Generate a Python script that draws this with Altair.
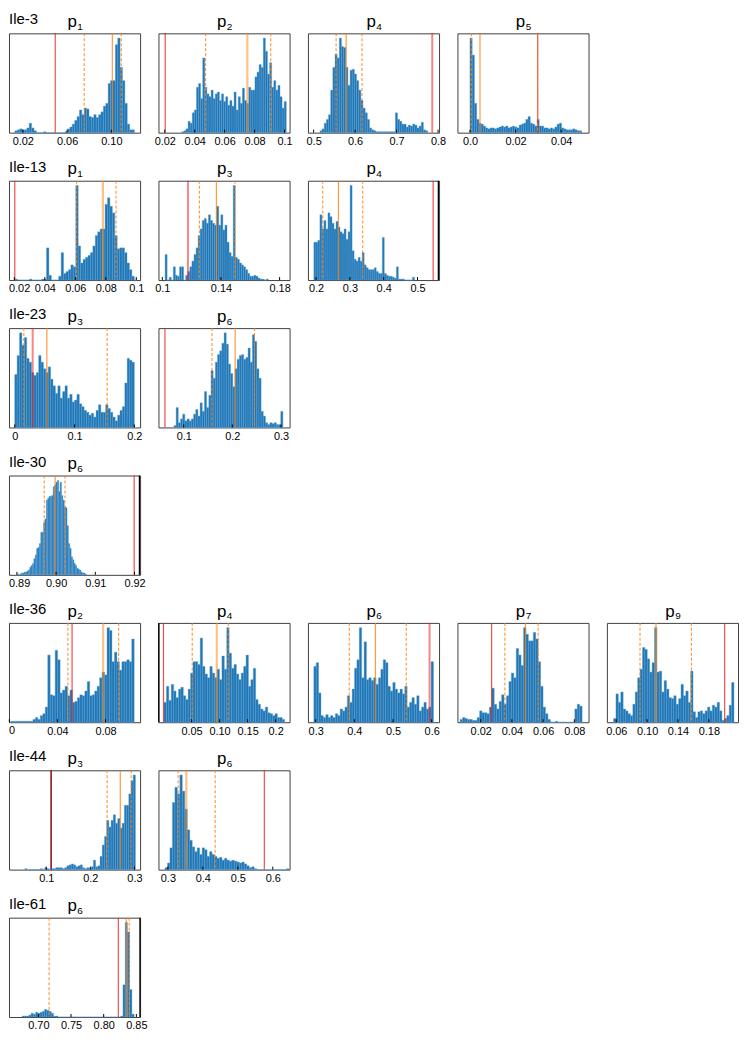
import altair as alt
import numpy as np
import pandas as pd

FONT = "Liberation Sans"
PANEL_W = 132
PANEL_H = 100

# ---------------- Ile-3 ----------------
ILE3_P1_COUNTS = [2,3,4,3,3,5,10,5,2,0, 0,0,1,0,0,0,0,0,0,0, 0,1,4,6,9,13,17,24,19,26,
                  25,17,16,19,16,19,22,28,31,52, 55,55,93,100,69,55,31,9,3,3]
ILE3_P1_BINS = [0.0128, 0.1209]
ILE3_P1_XLIM = [0.0075, 0.126]
ILE3_P1_TICKS = [0.02, 0.06, 0.10]
ILE3_P1_LABELS = ["0.02", "0.06", "0.10"]
ILE3_P1_LINES = [("true", 0.0493), ("ci", 0.0755), ("median", 0.1009), ("ci", 0.109)]

ILE3_P2_COUNTS = [1,2,4,12,10,21,24,48,52,36, 79,48,41,38,45,36,41,43,34,41, 33,38,29,34,28,43,24,38,31,47,
                  34,31,48,45,45,59,64,72,69,100, 86,62,74,48,55,45,50,38,26,33]
ILE3_P2_BINS = [0.0314, 0.1012]
ILE3_P2_XLIM = [0.0158, 0.1034]
ILE3_P2_TICKS = [0.02, 0.04, 0.06, 0.08, 0.1]
ILE3_P2_LABELS = ["0.02", "0.04", "0.06", "0.08", "0.1"]
ILE3_P2_LINES = [("true", 0.0203), ("ci", 0.0473), ("median_wide", 0.0752), ("ci", 0.0908)]

ILE3_P4_COUNTS = [2,4,10,14,19,45,69,83,79,100, 91,90,69,50,66,67,62,55,45,34, 26,21,14,5,3,2,1,1,1,1,
                  1,1,1,1,1,21,14,12,9,9, 6,8,7,9,8,5,7,11,3,2]
ILE3_P4_BINS = [0.5151, 0.7751]
ILE3_P4_XLIM = [0.4863, 0.8024]
ILE3_P4_TICKS = [0.5, 0.6, 0.7, 0.8]
ILE3_P4_LABELS = ["0.5", "0.6", "0.7", "0.8"]
ILE3_P4_LINES = [("true_wide", 0.786), ("ci", 0.5542), ("median", 0.5784), ("ci", 0.6166)]

ILE3_P5_COUNTS = [100,82,31,14,10,9,7,5,4,5, 5,4,5,6,7,6,7,5,6,7, 6,5,8,9,10,14,17,10,9,7,
                  14,7,7,5,5,4,5,4,6,9, 10,5,4,3,3,3,4,3,2,2]
ILE3_P5_BINS = [0.0, 0.049]
ILE3_P5_XLIM = [-0.0055, 0.052]
ILE3_P5_TICKS = [0.0, 0.02, 0.04]
ILE3_P5_LABELS = ["0.0", "0.02", "0.04"]
ILE3_P5_LINES = [("true", 0.0297), ("ci", 0.0006), ("median", 0.0044), ("ci", 0.0297)]

# ---------------- Ile-13 ----------------
ILE13_P1_COUNTS = [1,0,0,0,0,0,1,0,0,0, 0,1,1,34,5,0,0,0,4,29, 7,9,11,16,14,100,36,18,22,24,
                   26,29,36,47,51,54,54,80,87,78, 71,47,33,34,34,29,18,11,4,0]
ILE13_P1_BINS = [0.0203, 0.1003]
ILE13_P1_XLIM = [0.0165, 0.1025]
ILE13_P1_TICKS = [0.02, 0.04, 0.06, 0.08, 0.1]
ILE13_P1_LABELS = ["0.02", "0.04", "0.06", "0.08", "0.1"]
ILE13_P1_LINES = [("true", 0.0203), ("ci", 0.0608), ("median_wide", 0.0781), ("ci", 0.0867)]

ILE13_P3_COUNTS = [27,0,3,0,14,5,4,14,14,0, 5,9,14,20,27,34,47,54,63,65, 60,69,63,60,58,78,58,69,53,58,
                   40,29,25,100,24,22,18,16,14,11, 7,4,4,5,4,2,1,1,0,1]
ILE13_P3_BINS = [0.1019, 0.1723]
ILE13_P3_XLIM = [0.0974, 0.1868]
ILE13_P3_TICKS = [0.1, 0.14, 0.18]
ILE13_P3_LABELS = ["0.1", "0.14", "0.18"]
ILE13_P3_LINES = [("true_wide", 0.1175), ("ci", 0.1253), ("median", 0.1369), ("ci", 0.1495)]

ILE13_P4_COUNTS = [40,40,42,69,54,63,54,71,67,60, 54,62,56,51,49,54,43,51,100,31, 22,20,24,20,29,16,13,11,11,11,
                   13,9,7,7,45,7,5,4,4,3, 2,14,1,1,1,0,0,0,0,3]
ILE13_P4_BINS = [0.1935, 0.491]
ILE13_P4_XLIM = [0.176, 0.5637]
ILE13_P4_TICKS = [0.2, 0.3, 0.4, 0.5]
ILE13_P4_LABELS = ["0.2", "0.3", "0.4", "0.5"]
ILE13_P4_LINES = [("black", 0.5617), ("true", 0.5462), ("ci", 0.2197), ("median", 0.2662), ("ci", 0.3379)]

# ---------------- Ile-23 ----------------
ILE23_P3_COUNTS = [56,76,100,87,95,73,69,58,55,58, 76,69,62,58,64,51,44,36,44,31, 38,44,31,35,27,29,35,25,22,18,
                   16,13,15,11,18,24,16,16,24,20, 16,11,7,13,18,22,47,73,71,69]
ILE23_P3_BINS = [0.0, 0.2]
ILE23_P3_XLIM = [-0.0096, 0.2096]
ILE23_P3_TICKS = [0, 0.1, 0.2]
ILE23_P3_LABELS = ["0", "0.1", "0.2"]
ILE23_P3_LINES = [("true_wide", 0.030), ("ci", 0.0152), ("median", 0.0537), ("ci", 0.1545)]

ILE23_P6_COUNTS = [2,21,5,9,14,7,9,7,9,14, 19,12,26,17,38,21,34,60,52,69, 77,81,89,100,88,67,57,43,62,72,
                   76,77,72,74,84,69,98,91,62,52, 17,12,5,3,5,4,5,3,3,17]
ILE23_P6_BINS = [0.0799, 0.304]
ILE23_P6_XLIM = [0.0481, 0.3177]
ILE23_P6_TICKS = [0.1, 0.2, 0.3]
ILE23_P6_LABELS = ["0.1", "0.2", "0.3"]
ILE23_P6_LINES = [("true", 0.0614), ("ci", 0.1581), ("median", 0.2058), ("ci", 0.2455)]

# ---------------- Ile-30 ----------------
ILE30_P6_COUNTS = [1,0,1,2,2,3,3,4,5,8, 10,12,17,21,28,29,33,45,45,55, 59,79,81,83,83,84,93,95,98,100,
                   88,98,84,79,72,71,52,33,28,19, 16,12,10,7,6,5,3,2,2,1]
ILE30_P6_BINS = [0.89008, 0.90773]
ILE30_P6_XLIM = [0.88798, 0.92143]
ILE30_P6_TICKS = [0.89, 0.90, 0.91, 0.92]
ILE30_P6_LABELS = ["0.89", "0.90", "0.91", "0.92"]
ILE30_P6_LINES = [("black", 0.92126), ("true", 0.91992), ("ci", 0.89697), ("median", 0.89975), ("ci", 0.90227)]

# ---------------- Ile-36 ----------------
ILE36_P2_COUNTS = [1,1,1,1,1,1,1,1,1,3, 5,3,7,9,16,71,29,28,76,66, 31,34,38,28,34,21,22,26,29,28,
                   33,43,28,29,33,38,47,53,50,100, 97,64,74,64,55,64,64,66,64,88]
ILE36_P2_BINS = [0.0011, 0.1039]
ILE36_P2_XLIM = [-0.0003, 0.1088]
ILE36_P2_TICKS = [0, 0.04, 0.08]
ILE36_P2_LABELS = ["0", "0.04", "0.08"]
ILE36_P2_LINES = [("true", 0.0522), ("ci", 0.0487), ("median_wide", 0.0781), ("ci", 0.0909)]

ILE36_P4_COUNTS = [21,38,23,40,33,26,35,37,28,24, 35,52,64,64,61,89,59,51,47,59, 52,47,56,45,70,56,100,73,57,61,
                   51,45,52,59,71,38,45,57,24,19, 14,12,16,10,9,7,9,5,5,3]
ILE36_P4_BINS = [0.0009, 0.2161]
ILE36_P4_XLIM = [-0.009, 0.2249]
ILE36_P4_TICKS = [0.05, 0.10, 0.15, 0.2]
ILE36_P4_LABELS = ["0.05", "0.10", "0.15", "0.2"]
ILE36_P4_LINES = [("black", -0.0085), ("true", 0.0), ("ci", 0.0512), ("median_wide", 0.095), ("ci", 0.1155)]

ILE36_P6_COUNTS = [59,63,31,7,5,8,5,7,5,9, 7,14,12,16,28,21,35,57,66,100, 47,85,45,47,44,47,40,47,56,66,
                   63,38,33,42,35,31,35,30,38,16, 21,26,19,28,12,16,21,14,16,64]
ILE36_P6_BINS = [0.2953, 0.6047]
ILE36_P6_XLIM = [0.2801, 0.6191]
ILE36_P6_TICKS = [0.3, 0.4, 0.5, 0.6]
ILE36_P6_LABELS = ["0.3", "0.4", "0.5", "0.6"]
ILE36_P6_LINES = [("true_wide", 0.5945), ("ci", 0.3869), ("median", 0.4547), ("ci", 0.5343)]

ILE36_P7_COUNTS = [3,5,4,3,3,2,2,5,12,10, 10,9,16,36,19,14,22,29,19,28, 43,52,47,78,71,60,100,93,86,86,
                   95,88,64,38,16,9,3,0,0,1, 0,0,0,0,0,0,0,14,19,17]
ILE36_P7_BINS = [0.0068, 0.0850]
ILE36_P7_XLIM = [0.0051, 0.0891]
ILE36_P7_TICKS = [0.02, 0.04, 0.06, 0.08]
ILE36_P7_LABELS = ["0.02", "0.04", "0.06", "0.08"]
ILE36_P7_LINES = [("true", 0.027), ("ci", 0.0355), ("median", 0.0487), ("ci", 0.0568)]

ILE36_P9_COUNTS = [4,30,21,32,14,12,9,7,19,32, 47,56,79,77,67,53,63,100,53,54, 32,44,35,26,25,28,19,25,40,28,
                   33,21,54,11,5,11,12,9,12,16, 12,18,16,21,12,2,4,7,18,42]
ILE36_P9_BINS = [0.0565, 0.2126]
ILE36_P9_XLIM = [0.0479, 0.2178]
ILE36_P9_TICKS = [0.06, 0.10, 0.14, 0.18]
ILE36_P9_LABELS = ["0.06", "0.10", "0.14", "0.18"]
ILE36_P9_LINES = [("true", 0.2005), ("ci", 0.0908), ("median_wide", 0.1115), ("ci", 0.1575)]

# ---------------- Ile-44 ----------------
ILE44_P3_COUNTS = [1,0,0,0,0,0,0,1,0,2, 1,0,1,1,2,2,2,1,2,4, 5,6,5,3,4,5,2,1,2,1,
                   3,10,3,4,14,26,35,52,45,52, 58,49,54,44,49,68,68,80,94,100]
ILE44_P3_BINS = [0.0515, 0.3022]
ILE44_P3_XLIM = [0.0155, 0.3128]
ILE44_P3_TICKS = [0.1, 0.2, 0.3]
ILE44_P3_LABELS = ["0.1", "0.2", "0.3"]
ILE44_P3_LINES = [("black", 0.1112), ("true", 0.1112), ("ci", 0.2380), ("median", 0.2679), ("ci", 0.2926)]

ILE44_P6_COUNTS = [2,7,23,71,87,80,100,83,64,42, 31,24,19,23,16,23,21,14,19,16, 14,12,13,10,12,10,9,10,9,8,
                   7,8,6,4,2,3,1,0,0,0, 0,0,0,0,0,0,0,0,0,1]
ILE44_P6_BINS = [0.2917, 0.646]
ILE44_P6_XLIM = [0.2731, 0.648]
ILE44_P6_TICKS = [0.3, 0.4, 0.5, 0.6]
ILE44_P6_LABELS = ["0.3", "0.4", "0.5", "0.6"]
ILE44_P6_LINES = [("true", 0.5758), ("ci", 0.3293), ("median_wide", 0.3527), ("ci", 0.4352)]

# ---------------- Ile-61 ----------------
ILE61_P6_COUNTS = [1,1,1,2,4,3,5,4,5,6, 8,7,6,4,1,1,0,0,0,0, 0,0,0,0,0,0,0,0,0,0,
                   0,0,0,0,0,0,0,0,0,0, 0,0,0,0,1,34,100,90,29,3]
ILE61_P6_BINS = [0.6752, 0.8466]
ILE61_P6_XLIM = [0.6551, 0.8557]
ILE61_P6_TICKS = [0.70, 0.75, 0.80, 0.85]
ILE61_P6_LABELS = ["0.70", "0.75", "0.80", "0.85"]
ILE61_P6_LINES = [("black", 0.8555), ("true", 0.8224), ("ci", 0.7165), ("median", 0.8345), ("ci", 0.839)]

ROWS = [
    ("Ile-3", [("1", ILE3_P1_COUNTS, ILE3_P1_BINS, ILE3_P1_XLIM, ILE3_P1_TICKS, ILE3_P1_LABELS, ILE3_P1_LINES),
               ("2", ILE3_P2_COUNTS, ILE3_P2_BINS, ILE3_P2_XLIM, ILE3_P2_TICKS, ILE3_P2_LABELS, ILE3_P2_LINES),
               ("4", ILE3_P4_COUNTS, ILE3_P4_BINS, ILE3_P4_XLIM, ILE3_P4_TICKS, ILE3_P4_LABELS, ILE3_P4_LINES),
               ("5", ILE3_P5_COUNTS, ILE3_P5_BINS, ILE3_P5_XLIM, ILE3_P5_TICKS, ILE3_P5_LABELS, ILE3_P5_LINES)]),
    ("Ile-13", [("1", ILE13_P1_COUNTS, ILE13_P1_BINS, ILE13_P1_XLIM, ILE13_P1_TICKS, ILE13_P1_LABELS, ILE13_P1_LINES),
                ("3", ILE13_P3_COUNTS, ILE13_P3_BINS, ILE13_P3_XLIM, ILE13_P3_TICKS, ILE13_P3_LABELS, ILE13_P3_LINES),
                ("4", ILE13_P4_COUNTS, ILE13_P4_BINS, ILE13_P4_XLIM, ILE13_P4_TICKS, ILE13_P4_LABELS, ILE13_P4_LINES)]),
    ("Ile-23", [("3", ILE23_P3_COUNTS, ILE23_P3_BINS, ILE23_P3_XLIM, ILE23_P3_TICKS, ILE23_P3_LABELS, ILE23_P3_LINES),
                ("6", ILE23_P6_COUNTS, ILE23_P6_BINS, ILE23_P6_XLIM, ILE23_P6_TICKS, ILE23_P6_LABELS, ILE23_P6_LINES)]),
    ("Ile-30", [("6", ILE30_P6_COUNTS, ILE30_P6_BINS, ILE30_P6_XLIM, ILE30_P6_TICKS, ILE30_P6_LABELS, ILE30_P6_LINES)]),
    ("Ile-36", [("2", ILE36_P2_COUNTS, ILE36_P2_BINS, ILE36_P2_XLIM, ILE36_P2_TICKS, ILE36_P2_LABELS, ILE36_P2_LINES),
                ("4", ILE36_P4_COUNTS, ILE36_P4_BINS, ILE36_P4_XLIM, ILE36_P4_TICKS, ILE36_P4_LABELS, ILE36_P4_LINES),
                ("6", ILE36_P6_COUNTS, ILE36_P6_BINS, ILE36_P6_XLIM, ILE36_P6_TICKS, ILE36_P6_LABELS, ILE36_P6_LINES),
                ("7", ILE36_P7_COUNTS, ILE36_P7_BINS, ILE36_P7_XLIM, ILE36_P7_TICKS, ILE36_P7_LABELS, ILE36_P7_LINES),
                ("9", ILE36_P9_COUNTS, ILE36_P9_BINS, ILE36_P9_XLIM, ILE36_P9_TICKS, ILE36_P9_LABELS, ILE36_P9_LINES)]),
    ("Ile-44", [("3", ILE44_P3_COUNTS, ILE44_P3_BINS, ILE44_P3_XLIM, ILE44_P3_TICKS, ILE44_P3_LABELS, ILE44_P3_LINES),
                ("6", ILE44_P6_COUNTS, ILE44_P6_BINS, ILE44_P6_XLIM, ILE44_P6_TICKS, ILE44_P6_LABELS, ILE44_P6_LINES)]),
    ("Ile-61", [("6", ILE61_P6_COUNTS, ILE61_P6_BINS, ILE61_P6_XLIM, ILE61_P6_TICKS, ILE61_P6_LABELS, ILE61_P6_LINES)]),
]

# tick labels that would hang past the page edge are drawn flush with the frame instead
EDGE_LABELS = {("Ile-13", "1"): 0.02, ("Ile-30", "6"): 0.89, ("Ile-36", "2"): 0}

LINE_STYLE = {
    "black": dict(color="#000000", strokeWidth=1.3),
    "true": dict(color="#ee2020", strokeWidth=1.2, opacity=0.8),
    "true_wide": dict(color="#ee2020", strokeWidth=2.0, opacity=0.55),
    "median": dict(color="#ff7f0e", strokeWidth=1.2, opacity=0.8),
    "median_wide": dict(color="#ff8c1a", strokeWidth=2.2, opacity=0.55),
    "ci": dict(color="#ff7f0e", strokeWidth=1.1, opacity=0.85, strokeDash=[3, 2]),
}
LINE_ORDER = ["black", "true_wide", "true", "median_wide", "median", "ci"]
N_COLS = 5
LABEL_SIZE = 11
LABEL_PAD = 3


def label_expr(ticks, labels, skip):
    expr = "''"
    for t, lab in reversed(list(zip(ticks, labels))):
        if skip is not None and abs(t - skip) < 1e-12:
            lab = ""
        expr = f"abs(datum.value - ({t})) < 1e-7 ? '{lab}' : ({expr})"
    return expr


def panel(row_label, sub, counts, bins, xlim, ticks, labels, lines, first):
    n = len(counts)
    edges = np.linspace(bins[0], bins[1], n + 1)
    df = pd.DataFrame({"x": edges[:-1], "x2": edges[1:], "count": counts, "zero": [0] * n})
    skip = EDGE_LABELS.get((row_label, sub))
    axis = alt.Axis(values=ticks, labelExpr=label_expr(ticks, labels, skip), labelFlush=False)
    xenc = alt.X("x:Q", scale=alt.Scale(domain=xlim, nice=False, zero=False), axis=axis, title=None)
    ymax = max(counts) * 1.05
    bars = alt.Chart(df).mark_bar(color="#1f77b4", stroke="#5d9fd8", strokeWidth=0.4).encode(
        x=xenc, x2="x2:Q",
        y=alt.Y("count:Q", scale=alt.Scale(domain=[0, ymax], nice=False), axis=None),
        y2="zero:Q",
    )
    layers = [bars]
    for kind in LINE_ORDER:
        vals = [v for k, v in lines if k == kind]
        if vals:
            layers.append(alt.Chart(pd.DataFrame({"x": vals})).mark_rule(**LINE_STYLE[kind]).encode(x=xenc))
    layers.append(alt.Chart(pd.DataFrame({"x": ticks})).mark_rule(color="#000000", strokeWidth=1).encode(
        x=xenc, y=alt.value(PANEL_H), y2=alt.value(PANEL_H - 3)))
    one = pd.DataFrame({"k": [0]})
    layers.append(alt.Chart(one).mark_text(text="p", font=FONT, fontSize=17, align="right",
                                           baseline="alphabetic", color="#000000").encode(
        x=alt.value(PANEL_W / 2 + 2.3), y=alt.value(-6.3)))
    layers.append(alt.Chart(one).mark_text(text=sub, font=FONT, fontSize=10, align="left",
                                           baseline="alphabetic", color="#000000").encode(
        x=alt.value(PANEL_W / 2 + 2.8), y=alt.value(-3.6)))
    if skip is not None:
        txt = labels[[abs(t - skip) < 1e-12 for t in ticks].index(True)]
        layers.append(alt.Chart(one).mark_text(text=txt, font=FONT, fontSize=LABEL_SIZE, align="left",
                                               baseline="top", color="#000000").encode(
            x=alt.value(0), y=alt.value(PANEL_H + LABEL_PAD)))
    if first:
        layers.append(alt.Chart(one).mark_text(text=row_label, font=FONT, fontSize=15, align="left",
                                               baseline="alphabetic", color="#000000").encode(
            x=alt.value(0), y=alt.value(-9)))
    return alt.layer(*layers).properties(width=PANEL_W, height=PANEL_H)


def blank():
    one = pd.DataFrame({"k": [0]})
    return alt.Chart(one).mark_point(opacity=0).encode(
        x=alt.value(PANEL_W / 2), y=alt.value(PANEL_H / 2)
    ).properties(width=PANEL_W, height=PANEL_H, view=alt.ViewBackground(stroke="transparent"))


cells = []
for r, (row_label, panels) in enumerate(ROWS):
    for i, p in enumerate(panels):
        cells.append(panel(row_label, *p, first=(i == 0)))
    if r < len(ROWS) - 1:
        for _ in range(N_COLS - len(panels)):
            cells.append(blank())

chart = alt.concat(*cells, columns=N_COLS, spacing={"row": 48.4, "column": 18.5}, bounds="flush").properties(
    padding={"left": 0, "top": 0, "right": 0, "bottom": 0}
).configure_view(
    stroke="#404040", strokeWidth=1
).configure_axis(
    labelFont=FONT, labelFontSize=LABEL_SIZE, labelColor="#000000", ticks=False, tickSize=0,
    domain=False, grid=False, labelPadding=LABEL_PAD, labelOverlap=False
)

chart.save("out.html", embed_options={"renderer": "svg", "actions": False})
